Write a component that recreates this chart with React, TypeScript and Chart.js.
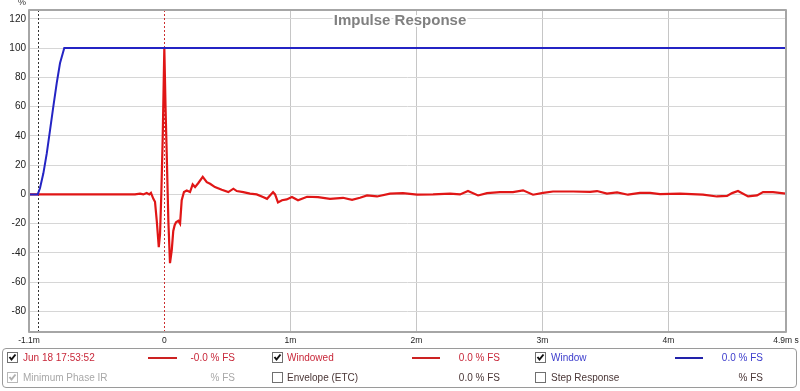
import React, { useEffect, useRef } from "react";
import { Chart, registerables } from "chart.js";

Chart.register(...registerables);

const FONT = "'Liberation Sans', Arial, sans-serif";

const X_MIN = -1.074;
const X_MAX = 4.934;
const Y_MIN = -94;
const Y_MAX = 126;

const xTickValues = [X_MIN, 0, 1, 2, 3, 4, X_MAX];
const xTickLabels = ["-1.1m", "0", "1m", "2m", "3m", "4m", "4.9m s"];
const yTickValues = [-80, -60, -40, -20, 0, 20, 40, 60, 80, 100, 120];

const windowStartMs = -1.005;
const referenceMs = 0;

// Windowed impulse response (time in ms, value in %)
const redTimes = [
  -1.074, -0.9, -0.6, -0.3, -0.233, -0.193, -0.167, -0.14, -0.119, -0.106,
  -0.087, -0.074, -0.06, -0.044, -0.034, -0.024, -0.013, 0, 0.01, 0.019,
  0.032, 0.045, 0.059, 0.071, 0.082, 0.093, 0.111, 0.125, 0.138, 0.156,
  0.178, 0.204, 0.225, 0.244, 0.27, 0.305, 0.337, 0.363, 0.402, 0.456,
  0.508, 0.548, 0.575, 0.627, 0.68, 0.733, 0.783, 0.815, 0.863, 0.879,
  0.902, 0.934, 0.971, 1.013, 1.061, 1.133, 1.22, 1.315, 1.418, 1.49,
  1.553, 1.609, 1.688, 1.791, 1.894, 2.006, 2.133, 2.268, 2.347, 2.41,
  2.49, 2.561, 2.664, 2.767, 2.847, 2.926, 3.006, 3.085, 3.244, 3.379,
  3.434, 3.513, 3.593, 3.68, 3.775, 3.855, 3.934, 4.093, 4.275, 4.386,
  4.466, 4.506, 4.553, 4.633, 4.704, 4.752, 4.831, 4.934,
];
const redValues = [
  0, 0, 0, 0, 0, 0.5, 0, 1, 0, 1,
  -3, -5, -18, -36, -27, 0, 38, 100, 58, 28,
  -18, -47, -38, -25, -21, -19, -18, -20, -4, 1.6,
  2.7, 1.6, 6.8, 5, 7.8, 12, 8.4, 7.3, 5, 3.2,
  1.6, 3.9, 2.3, 1.6, 0.5, 0, -1.8, -3, 1.6, 0,
  -5.5, -4, -3.4, -1.8, -4, -1.6, -1.8, -3, -2.3, -3.7,
  -2.3, -0.7, -1.4, 0.5, 0.9, -0.2, 0, 0.5, 0, 2.3,
  -0.7, 0.9, 1.6, 1.6, 2.8, -0.2, 1.1, 2, 2, 1.8,
  2.3, 0.5, 1.4, -0.2, 1.1, 1.1, 0.2, 0.5, -0.2, -1.4,
  -1, 0.9, 2.3, -1.4, -0.7, 1.6, 1.6, 0.5,
];

// Window (time in ms, value in %)
const blueTimes = [X_MIN, -1.005, -0.987, -0.96, -0.933, -0.907, -0.881, -0.854, -0.828, -0.794, X_MAX];
const blueValues = [0, 0, 4.2, 14.4, 28, 44, 60, 76, 89.6, 100, 100];

const overlayPlugin = {
  id: "rewOverlay",
  beforeDatasetsDraw(chart: any) {
    const { ctx, chartArea, scales } = chart;
    const { top, bottom } = chartArea;
    ctx.save();
    ctx.lineWidth = 1;
    const xw = Math.round(scales.x.getPixelForValue(windowStartMs)) + 0.5;
    ctx.strokeStyle = "#333333";
    ctx.setLineDash([2, 2]);
    ctx.beginPath();
    ctx.moveTo(xw, top);
    ctx.lineTo(xw, bottom);
    ctx.stroke();
    const x0 = Math.round(scales.x.getPixelForValue(referenceMs)) + 0.5;
    ctx.strokeStyle = "#cc3030";
    ctx.beginPath();
    ctx.moveTo(x0, top);
    ctx.lineTo(x0, bottom);
    ctx.stroke();
    ctx.restore();
  },
  afterDraw(chart: any) {
    const { ctx, chartArea } = chart;
    const { left, right, top, bottom } = chartArea;
    ctx.save();
    ctx.font = `bold 15px ${FONT}`;
    ctx.textAlign = "center";
    ctx.textBaseline = "alphabetic";
    ctx.lineJoin = "round";
    ctx.strokeStyle = "#ffffff";
    ctx.lineWidth = 4;
    ctx.strokeText("Impulse Response", 400, 25);
    ctx.fillStyle = "#808080";
    ctx.fillText("Impulse Response", 400, 25);
    ctx.strokeStyle = "#a6a6a6";
    ctx.lineWidth = 2;
    ctx.strokeRect(left, top, right - left, bottom - top);
    ctx.font = `9px ${FONT}`;
    ctx.fillStyle = "#333333";
    ctx.textAlign = "center";
    ctx.textBaseline = "middle";
    ctx.fillText("%", 22, 3);
    ctx.restore();
  },
};

function CheckBox({ x, y, checked, disabled }: { x: number; y: number; checked: boolean; disabled?: boolean }) {
  const c = disabled ? "#b0b0b0" : "#111111";
  return (
    <svg width={11} height={11} style={{ position: "absolute", left: x, top: y }}>
      <rect x={0.5} y={0.5} width={10} height={10} fill="#ffffff" stroke={disabled ? "#b8b8b8" : "#707070"} />
      {checked && <polyline points="2.5,5 4.5,7.5 8.5,2.5" fill="none" stroke={c} strokeWidth={2} />}
    </svg>
  );
}

function Txt({ x, y, color, children, right }: { x: number; y: number; color: string; children: React.ReactNode; right?: boolean }) {
  const style: React.CSSProperties = {
    position: "absolute",
    top: y - 7,
    lineHeight: "14px",
    fontSize: 10,
    fontFamily: FONT,
    color,
    whiteSpace: "nowrap",
  };
  if (right) style.right = 800 - x;
  else style.left = x;
  return <div style={style}>{children}</div>;
}

function Seg({ x1, x2, y, color }: { x1: number; x2: number; y: number; color: string }) {
  return (
    <div style={{ position: "absolute", left: x1, top: y - 1, width: x2 - x1, height: 2, background: color }} />
  );
}

const RED = "#c8283a";
const BLUE = "#3c3ccc";
const GRAY = "#a8a8a8";
const DARK = "#4a3636";

function Legend() {
  const r1 = 357.5;
  const r2 = 378;
  return (
    <>
      <div
        style={{
          position: "absolute",
          left: 2,
          top: 348,
          width: 795,
          height: 40,
          border: "1px solid #9a9a9a",
          borderRadius: 4,
          boxSizing: "border-box",
        }}
      />
      <CheckBox x={7} y={352} checked />
      <Txt x={23} y={r1} color={RED}>Jun 18 17:53:52</Txt>
      <Seg x1={148} x2={177} y={r1} color="#cc2222" />
      <Txt x={235} y={r1} color={RED} right>-0.0 % FS</Txt>
      <CheckBox x={272} y={352} checked />
      <Txt x={287} y={r1} color={RED}>Windowed</Txt>
      <Seg x1={412} x2={440} y={r1} color="#cc2222" />
      <Txt x={500} y={r1} color={RED} right>0.0 % FS</Txt>
      <CheckBox x={535} y={352} checked />
      <Txt x={551} y={r1} color={BLUE}>Window</Txt>
      <Seg x1={675} x2={703} y={r1} color="#2222aa" />
      <Txt x={763} y={r1} color={BLUE} right>0.0 % FS</Txt>

      <CheckBox x={7} y={372} checked disabled />
      <Txt x={23} y={r2} color={GRAY}>Minimum Phase IR</Txt>
      <Txt x={235} y={r2} color={GRAY} right>% FS</Txt>
      <CheckBox x={272} y={372} checked={false} />
      <Txt x={287} y={r2} color={DARK}>Envelope (ETC)</Txt>
      <Txt x={500} y={r2} color={DARK} right>0.0 % FS</Txt>
      <CheckBox x={535} y={372} checked={false} />
      <Txt x={551} y={r2} color={DARK}>Step Response</Txt>
      <Txt x={763} y={r2} color={DARK} right>% FS</Txt>
    </>
  );
}

export default function App() {
  const canvasRef = useRef<HTMLCanvasElement | null>(null);

  useEffect(() => {
    const canvas = canvasRef.current;
    if (!canvas) return;
    const chart = new Chart(canvas, {
      type: "scatter",
      data: {
        datasets: [
          {
            label: "Window",
            data: blueTimes.map((t, i) => ({ x: t, y: blueValues[i] })),
            showLine: true,
            borderColor: "#2424c4",
            borderWidth: 2,
            pointRadius: 0,
            order: 0,
          },
          {
            label: "Windowed",
            data: redTimes.map((t, i) => ({ x: t, y: redValues[i] })),
            showLine: true,
            borderColor: "#e01616",
            borderWidth: 2.2,
            pointRadius: 0,
            order: 1,
          },
        ],
      },
      options: {
        animation: false,
        responsive: false,
        layout: { padding: { left: 0, top: 10, right: 14, bottom: 43 } },
        plugins: { legend: { display: false }, tooltip: { enabled: false } },
        elements: { line: { tension: 0 } },
        scales: {
          x: {
            type: "linear",
            min: X_MIN,
            max: X_MAX,
            afterBuildTicks: (s: any) => {
              s.ticks = xTickValues.map((v) => ({ value: v }));
            },
            afterFit: (s: any) => {
              s.height = 16;
              s.paddingLeft = 0;
              s.paddingRight = 0;
            },
            ticks: {
              autoSkip: false,
              maxRotation: 0,
              minRotation: 0,
              padding: 4,
              color: "#222222",
              font: { family: FONT, size: 8.5 },
              callback: (_v: any, i: number) => xTickLabels[i],
            },
            grid: {
              drawTicks: false,
              lineWidth: 1,
              color: (c: any) =>
                c.tick && c.tick.value > 0.5 && c.tick.value < 4.5 ? "#c6c6c6" : "rgba(0,0,0,0)",
            },
            border: { display: false },
          },
          y: {
            type: "linear",
            min: Y_MIN,
            max: Y_MAX,
            afterBuildTicks: (s: any) => {
              s.ticks = yTickValues.map((v) => ({ value: v }));
            },
            afterFit: (s: any) => {
              s.width = 29;
              s.paddingTop = 0;
              s.paddingBottom = 0;
            },
            ticks: {
              padding: 3,
              color: "#222222",
              font: { family: FONT, size: 10 },
            },
            grid: { drawTicks: false, color: "#d6d6d6", lineWidth: 1 },
            border: { display: false },
          },
        },
      },
      plugins: [overlayPlugin],
    } as any);
    return () => chart.destroy();
  }, []);

  return (
    <div
      style={{
        position: "absolute",
        left: 0,
        top: 0,
        width: 800,
        height: 391,
        background: "#ffffff",
        overflow: "hidden",
      }}
    >
      <canvas ref={canvasRef} width={800} height={391} style={{ display: "block" }} />
      <Legend />
    </div>
  );
}
